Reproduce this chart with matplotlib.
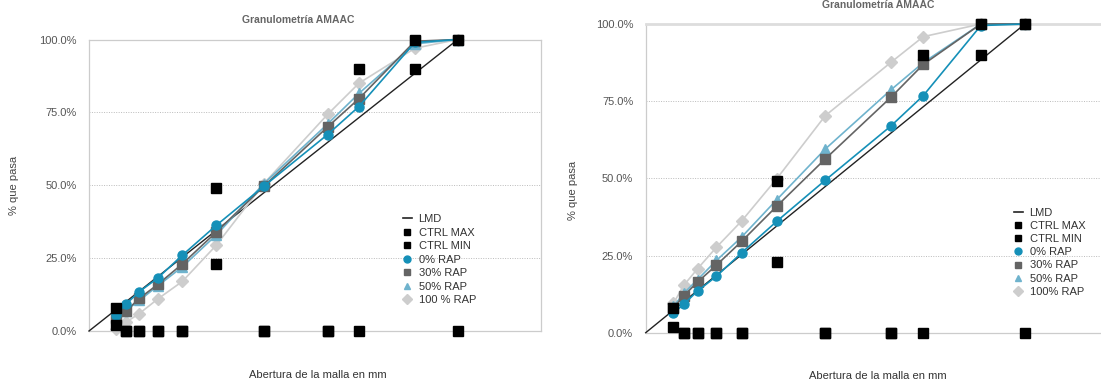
import numpy as np
import matplotlib
matplotlib.use("Agg")
import matplotlib.pyplot as plt
from matplotlib.lines import Line2D

plt.rcParams['font.family'] = ['Liberation Sans', 'DejaVu Sans']

# ---------------- data ----------------
sieves = [0.075, 0.15, 0.3, 0.6, 1.18, 2.36, 4.75, 9.5, 12.5, 19, 25]
lmd_x = [0, 25]
lmd_y = [0, 100]
ctrl_max = [8, 0, 0, 0, 0, 49, 0, 0, 90, 100, 100]
ctrl_min = [2, 0, 0, 0, 0, 23, 0, 0, 0, 90, 0]

left_rap0 = [5.6, 9.2, 13.5, 18.2, 26.0, 36.3, 49.6, 67.4, 77.0, 99.0, 100]
left_rap30 = [4.5, 6.8, 11.2, 16.0, 23.0, 34.0, 49.6, 70.0, 79.7, 99.4, 100]
left_rap50 = [4.0, 7.0, 10.5, 15.5, 22.0, 33.0, 50.5, 71.0, 81.5, 98.5, 100]
left_rap100 = [0.8, 3.0, 6.0, 11.0, 17.0, 29.5, 50.5, 74.3, 85.0, 97.0, 100]

right_rap0 = [6.3, 9.2, 13.5, 18.3, 25.9, 36.1, 49.4, 67.0, 76.8, 99.5, 100]
right_rap30 = [8.0, 11.9, 16.4, 21.9, 29.6, 41.0, 56.3, 76.3, 86.9, 100, 100]
right_rap50 = [8.5, 12.7, 17.2, 23.4, 31.0, 43.1, 59.5, 78.7, 87.5, 100, 100]
right_rap100 = [9.5, 15.3, 20.7, 27.7, 36.2, 49.9, 70.3, 87.6, 95.9, 100, 100]

title = "Granulometría AMAAC"
xlabel = "Abertura de la malla en mm"
ylabel = "% que pasa"
yticks = [0, 25, 50, 75, 100]
left_labels = ["LMD", "CTRL MAX", "CTRL MIN", "0% RAP", "30% RAP", "50% RAP", "100 % RAP"]
right_labels = ["LMD", "CTRL MAX", "CTRL MIN", "0% RAP", "30% RAP", "50% RAP", "100% RAP"]

# ---------------- style ----------------
C_BLUE = "#1590b8"
C_DGREY = "#646464"
C_LBLUE = "#6fb3cd"
C_LGREY = "#cdcdcd"
TXT = "#555555"

W, H = 1101, 383
fig = plt.figure(figsize=(W / 100, H / 100), dpi=100)


def fwd(x):
    return np.power(np.clip(x, 0, None), 0.45)


def inv(x):
    return np.power(np.clip(x, 0, None), 1 / 0.45)


def make_axes(l, r, t, b):
    return fig.add_axes([l / W, (H - b) / H, (r - l) / W, (b - t) / H])


def draw(ax, rap0, rap30, rap50, rap100, labels, top_lw, top_col):
    ax.set_xscale('function', functions=(fwd, inv))
    ax.set_xlim(0, 39.3)
    ax.set_ylim(0, 100)
    ax.plot(lmd_x, lmd_y, color="#222222", lw=1.0, zorder=3, clip_on=False)
    ax.plot(sieves, rap100, color=C_LGREY, lw=1.2, marker="D", ms=6, zorder=4, clip_on=False)
    ax.plot(sieves, rap50, color=C_LBLUE, lw=1.2, marker="^", ms=6.5, zorder=5, clip_on=False)
    ax.plot(sieves, rap30, color=C_DGREY, lw=1.2, marker="s", ms=6.5, zorder=6, clip_on=False)
    ax.plot(sieves, rap0, color=C_BLUE, lw=1.2, marker="o", ms=6.5, zorder=7, clip_on=False)
    ax.plot(sieves, ctrl_max, ls="none", marker="s", ms=7, color="black", zorder=8, clip_on=False)
    ax.plot(sieves, ctrl_min, ls="none", marker="s", ms=7, color="black", zorder=8, clip_on=False)

    ax.set_yticks(yticks)
    ax.set_yticklabels([f"{v:.1f}%" for v in yticks])
    ax.set_xticks([])
    ax.xaxis.set_minor_locator(matplotlib.ticker.NullLocator())
    ax.tick_params(axis="y", length=0, labelsize=8, labelcolor=TXT, pad=9)
    ax.grid(axis="y", ls=(0, (1, 1.5)), color="#bbbbbb", lw=0.7)
    ax.set_axisbelow(True)
    for s in ["left", "bottom", "right"]:
        ax.spines[s].set_color("#cccccc")
        ax.spines[s].set_linewidth(0.9)
    ax.spines["top"].set_color(top_col)
    ax.spines["top"].set_linewidth(top_lw)

    handles = [
        Line2D([], [], color="#222222", lw=1.2),
        Line2D([], [], ls="none", marker="s", ms=5, color="black"),
        Line2D([], [], ls="none", marker="s", ms=5, color="black"),
        Line2D([], [], ls="none", marker="o", ms=5, color=C_BLUE),
        Line2D([], [], ls="none", marker="s", ms=5, color=C_DGREY),
        Line2D([], [], ls="none", marker="^", ms=5, color=C_LBLUE),
        Line2D([], [], ls="none", marker="D", ms=5, color=C_LGREY),
    ]
    return handles


# left chart
axL = make_axes(89, 541, 39.5, 331)
hL = draw(axL, left_rap0, left_rap30, left_rap50, left_rap100, left_labels, 0.9, "#cccccc")
fig.text(298 / W, 1 - 20 / H, title, ha="center", va="center", fontsize=7.5,
         fontweight="bold", color="#666666")
fig.text(14 / W, 1 - 185 / H, ylabel, ha="center", va="center", rotation=90,
         fontsize=8, color="#444444")
fig.text(318 / W, 1 - 375 / H, xlabel, ha="center", va="center", fontsize=8, color="#333333")
fig.legend(hL, left_labels, loc="upper left", bbox_to_anchor=(403 / W, 1 - 214 / H),
           frameon=False, fontsize=8, labelspacing=0.32, handlelength=0.8,
           handletextpad=0.6, borderaxespad=0, borderpad=0, labelcolor="#333333")

# right chart
axR = make_axes(645.7, 1110.5, 24, 332.7)
hR = draw(axR, right_rap0, right_rap30, right_rap50, right_rap100, right_labels, 2.0, "#dddddd")
fig.text(878 / W, 1 - 5 / H, title, ha="center", va="center", fontsize=7.5,
         fontweight="bold", color="#666666")
fig.text(573 / W, 1 - 190 / H, ylabel, ha="center", va="center", rotation=90,
         fontsize=8, color="#444444")
fig.text(878 / W, 1 - 376 / H, xlabel, ha="center", va="center", fontsize=8, color="#333333")
fig.legend(hR, right_labels, loc="upper left", bbox_to_anchor=(1014 / W, 1 - 208 / H),
           frameon=False, fontsize=8, labelspacing=0.28, handlelength=0.8,
           handletextpad=0.6, borderaxespad=0, borderpad=0, labelcolor="#333333")

fig.savefig("out.png", dpi=100)
